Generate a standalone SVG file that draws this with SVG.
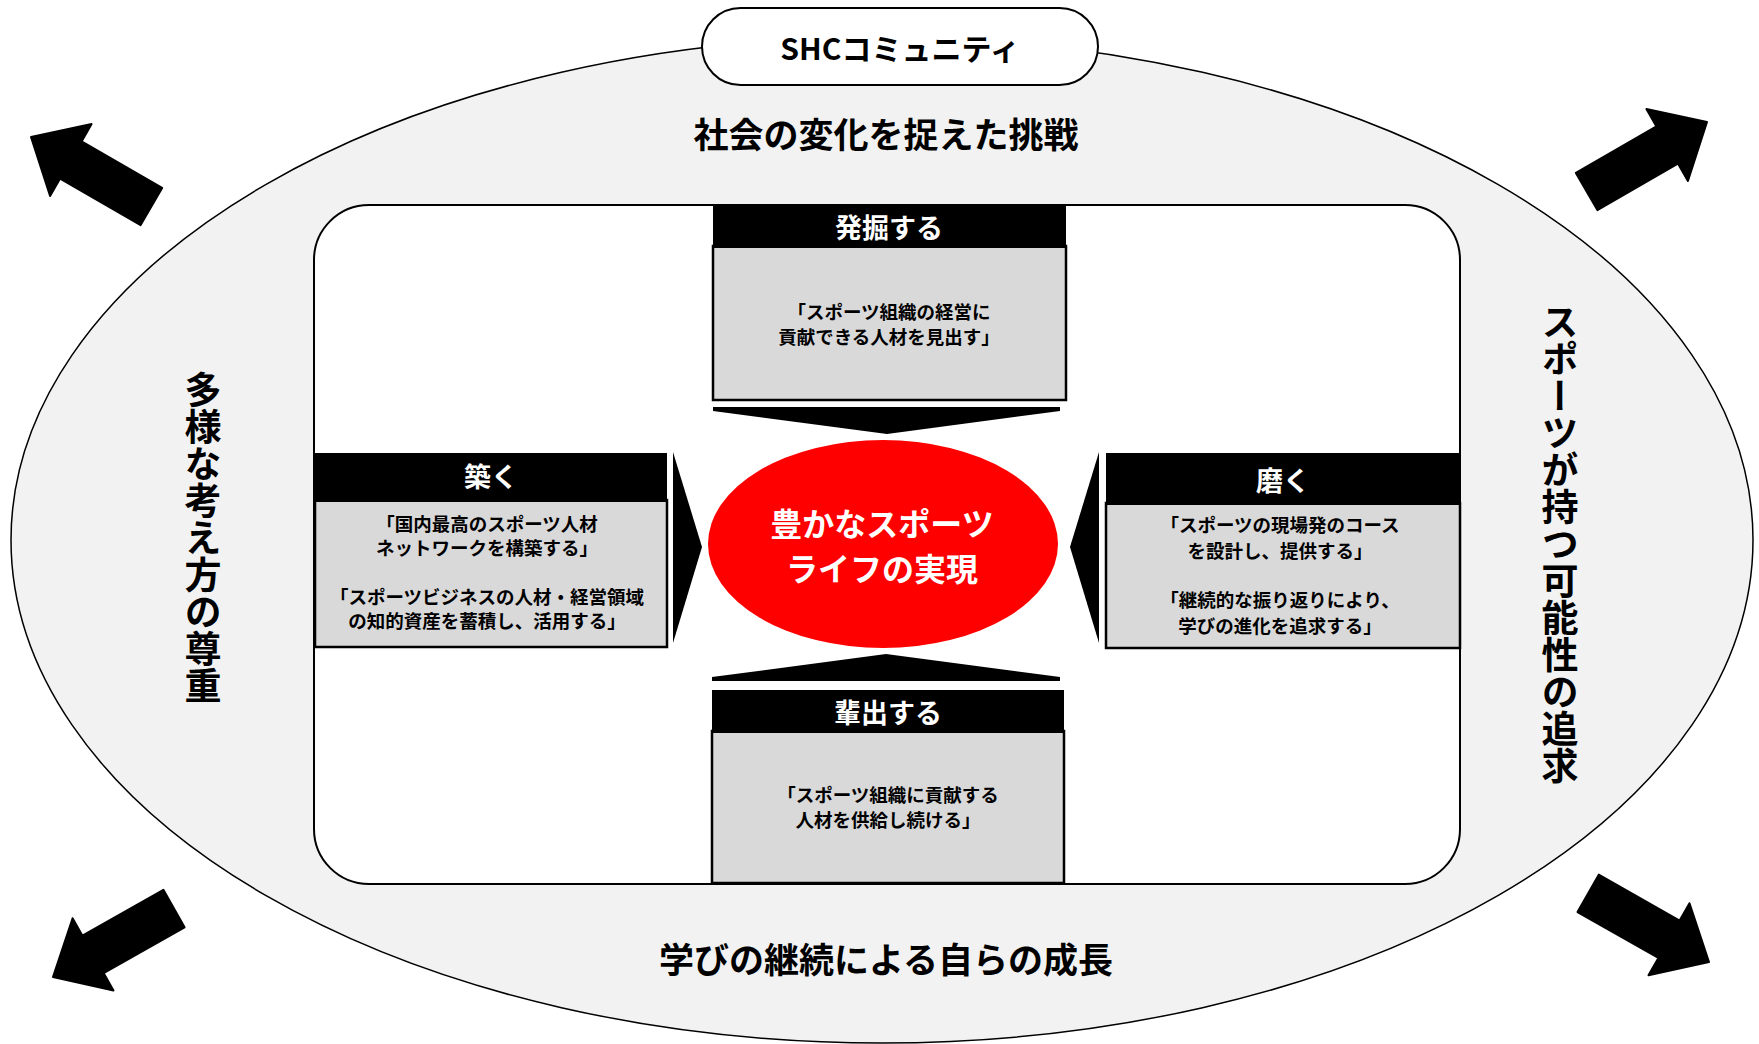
<svg xmlns="http://www.w3.org/2000/svg" width="1759" height="1044" viewBox="0 0 1759 1044">
<style>
.t{font-family:"Noto Sans CJK JP","Noto Sans",sans-serif;font-weight:bold;text-anchor:middle;dominant-baseline:central}
.big{font-size:35px;fill:#000}
.vert{font-size:37px;fill:#000;writing-mode:vertical-rl}
.hd{font-size:27px;fill:#fff}
.bd{font-size:18.5px;fill:#000}
.hdbox{fill:#000}
.bdbox{fill:#d9d9d9;stroke:#000;stroke-width:2.5}
.arr{fill:#000;stroke:#000;stroke-width:2;stroke-linejoin:round}
.chev{fill:#000}
</style>
<defs>
<path id="blk" d="M0,0 L-46,-41.5 L-46,-21.5 L-139,-21.5 L-139,21.5 L-46,21.5 L-46,41.5 Z"/>
</defs>
<rect width="1759" height="1044" fill="#fff"/>
<g id="outer">
<ellipse cx="882" cy="540" rx="871" ry="503" fill="#f2f2f2" stroke="#000" stroke-width="1.5"/>
</g>
<g id="community">
<rect x="702" y="8" width="396" height="77" rx="38.5" fill="#fff" stroke="#000" stroke-width="2"/>
<text class="t" x="900" y="47" font-size="30" fill="#000">SHCコミュニティ</text>
</g>
<g id="label-top"><text class="t big" x="886" y="132">社会の変化を捉えた挑戦</text></g>
<g id="label-bottom"><text class="t big" x="886" y="957">学びの継続による自らの成長</text></g>
<g id="label-left"><text class="t vert" x="203" y="538">多様な考え方の尊重</text></g>
<g id="label-right"><text class="t vert" x="1560" y="544">スポーツが持つ可能性の追求</text></g>
<g id="inner">
<rect x="314" y="205" width="1146" height="679" rx="55" fill="#fff" stroke="#000" stroke-width="2"/>
</g>
<g id="connectors">
<polygon class="chev" points="713,407 1060,407 1060,411 887,434 713,411"/>
<polygon class="chev" points="712,681 1060,681 1060,677 886,654 712,677"/>
<polygon class="chev" points="673,452 702,547 673,643"/>
<polygon class="chev" points="1099,452 1070,547 1099,643"/>
</g>
<g id="box-top">
<rect class="bdbox" x="713" y="246" width="353" height="154"/>
<rect class="hdbox" x="713" y="205" width="353" height="43"/>
<text class="t hd" x="889" y="226">発掘する</text>
<text class="t bd" x="889" y="311">「スポーツ組織の経営に</text>
<text class="t bd" x="889" y="336">貢献できる人材を見出す」</text>
</g>
<g id="box-left">
<rect class="bdbox" x="315" y="500" width="352" height="147"/>
<rect class="hdbox" x="315" y="453" width="352" height="49"/>
<text class="t hd" x="491" y="475">築く</text>
<text class="t bd" x="487" y="523">「国内最高のスポーツ人材</text>
<text class="t bd" x="487" y="547">ネットワークを構築する」</text>
<text class="t bd" x="487" y="596">「スポーツビジネスの人材・経営領域</text>
<text class="t bd" x="487" y="620">の知的資産を蓄積し、活用する」</text>
</g>
<g id="box-right">
<rect class="bdbox" x="1106" y="503" width="354" height="145"/>
<rect class="hdbox" x="1106" y="453" width="354" height="52"/>
<text class="t hd" x="1283" y="479">磨く</text>
<text class="t bd" x="1280" y="524">「スポーツの現場発のコース</text>
<text class="t bd" x="1280" y="550">を設計し、提供する」</text>
<text class="t bd" x="1280" y="599">「継続的な振り返りにより、</text>
<text class="t bd" x="1280" y="625">学びの進化を追求する」</text>
</g>
<g id="box-bottom">
<rect class="bdbox" x="712" y="731" width="352" height="152"/>
<rect class="hdbox" x="712" y="690" width="352" height="43"/>
<text class="t hd" x="888" y="711">輩出する</text>
<text class="t bd" x="888" y="794">「スポーツ組織に貢献する</text>
<text class="t bd" x="888" y="819">人材を供給し続ける」</text>
</g>
<g id="center">
<ellipse cx="883" cy="544" rx="175" ry="104" fill="#ff0000"/>
<text class="t" x="882" y="522" font-size="32" fill="#fff">豊かなスポーツ</text>
<text class="t" x="882" y="567" font-size="32" fill="#fff">ライフの実現</text>
</g>
<g id="corner-arrows">
<use class="arr" href="#blk" transform="translate(31,137) rotate(210)"/>
<use class="arr" href="#blk" transform="translate(1707,122) rotate(-30)"/>
<use class="arr" href="#blk" transform="translate(53,977) rotate(150.5)"/>
<use class="arr" href="#blk" transform="translate(1709,962) rotate(29.6)"/>
</g>
</svg>
